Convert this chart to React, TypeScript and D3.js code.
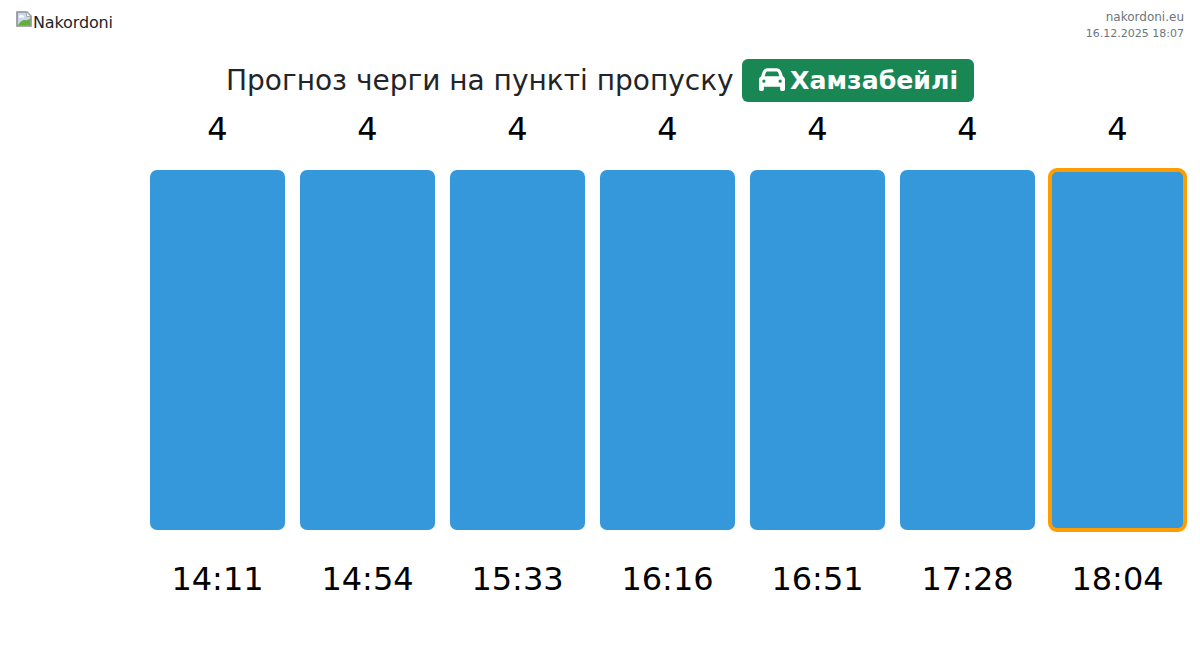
import React from "react";
import * as d3 from "d3";

const times = ["14:11", "14:54", "15:33", "16:16", "16:51", "17:28", "18:04"];
const queue = [4, 4, 4, 4, 4, 4, 4];
const highlighted = "18:04";
const titleText = "Прогноз черги на пункті пропуску";
const crossing = "Хамзабейлі";
const logoAlt = "Nakordoni";
const siteName = "nakordoni.eu";
const stamp = "16.12.2025 18:07";

const width = 1200;
const height = 651;
const font = "'DejaVu Sans', sans-serif";
const carPath =
  "M135.2 117.4L109.1 192H402.9l-26.1-74.6C372.3 104.6 360.2 96 346.6 96H165.4c-13.6 0-25.7 8.6-30.2 21.4zM39.6 196.8L74.8 96.3C88.3 57.8 124.6 32 165.4 32H346.6c40.8 0 77.1 25.8 90.6 64.3l35.2 100.5c23.2 9.6 39.6 32.5 39.6 59.2V400v48c0 17.7-14.3 32-32 32H448c-17.7 0-32-14.3-32-32V400H96v48c0 17.7-14.3 32-32 32H32c-17.7 0-32-14.3-32-32V400 256c0-26.7 16.4-49.6 39.6-59.2zM128 288a32 32 0 1 0 -64 0 32 32 0 1 0 64 0zm288 32a32 32 0 1 0 0-64 32 32 0 1 0 0 64z";

export default function App() {
  const x = d3.scaleBand<string>().domain(times).range([150, 1185]).paddingInner(0.1);
  const y = d3.scaleLinear().domain([0, 4]).range([530, 170]);

  return (
    <svg
      width={width}
      height={height}
      viewBox={`0 0 ${width} ${height}`}
      style={{ position: "absolute", left: 0, top: 0, fontFamily: font }}
    >
      {/* broken logo image */}
      <g transform="translate(16,11)">
        <path d="M1 1H11L15 5V15H1Z" fill="#c9daf0" stroke="#8f8f8f" strokeWidth={1.6} />
        <path d="M10.5 1V5.5H15Z" fill="#fff" stroke="#a8a8a8" />
        <path d="M3 5.5C4 3.5 7 3.5 8.5 6.5H3Z" fill="#fff" />
        <path d="M2 14.2C4.5 10 8 8 10.5 9.5L14.2 7.5V14.2Z" fill="#5fb03a" />
      </g>
      <text x={33} y={28} fontSize={16} fill="#212529" textLength={80}>{logoAlt}</text>

      <text x={1184} y={21} fontSize={12} textAnchor="end" fill="#6c757d">{siteName}</text>
      <text x={1184} y={37} fontSize={11} textAnchor="end" fill="#6c757d">{stamp}</text>

      <text x={226} y={90} fontSize={28} fill="#212529">{titleText}</text>
      <rect x={742} y={59} width={232} height={43} rx={6} fill="#198754" />
      <path d={carPath} fill="#fff" transform="translate(759,66.5) scale(0.0508)" />
      <text x={790} y={89} fontSize={25.2} fontWeight={700} fill="#fff">{crossing}</text>

      {times.map((t, i) => {
        const bx = x(t) as number;
        const isOn = t === highlighted;
        return (
          <g key={t}>
            <rect
              x={bx}
              y={y(queue[i])}
              width={x.bandwidth()}
              height={y(0) - y(queue[i])}
              rx={7}
              fill="#3498db"
              stroke={isOn ? "#ff9c00" : "none"}
              strokeWidth={isOn ? 4 : 0}
            />
            <text x={bx + x.bandwidth() / 2} y={y(queue[i]) - 30} fontSize={32} textAnchor="middle" fill="#000">
              {queue[i]}
            </text>
            <text x={bx + x.bandwidth() / 2} y={590} fontSize={32} textAnchor="middle" fill="#000">
              {t}
            </text>
          </g>
        );
      })}
    </svg>
  );
}
